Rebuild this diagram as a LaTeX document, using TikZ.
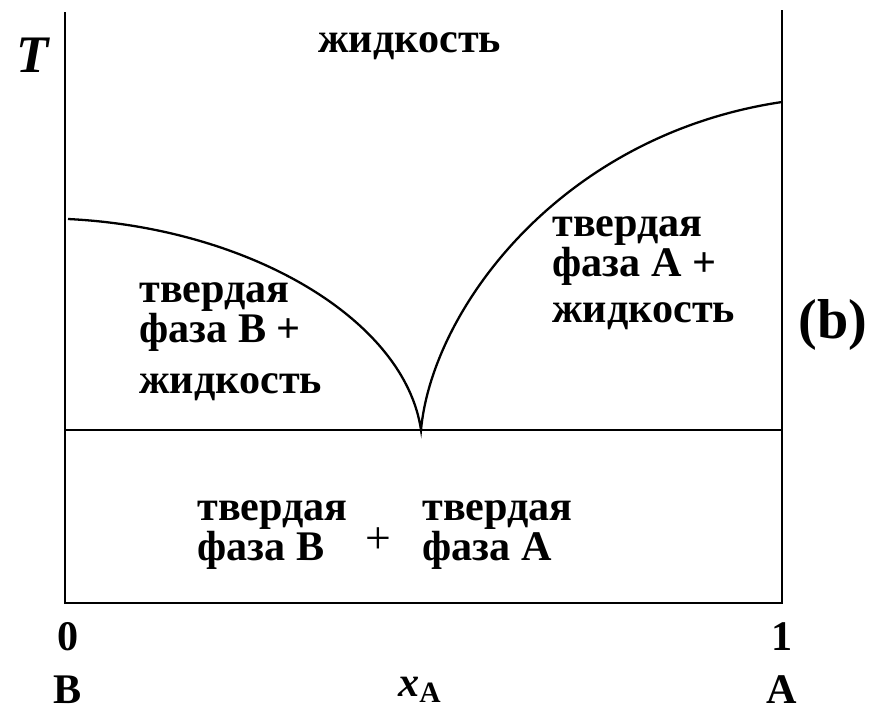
\documentclass[tikz,border=0pt]{standalone}
\usepackage{fontspec}
\setmainfont{Liberation Serif}
\begin{document}
\begin{tikzpicture}[x=0.02cm,y=-0.02cm,
  curve/.style={line width=1.3pt},
  lbl/.style={font=\fontsize{24}{21}\selectfont\bfseries,align=left,inner sep=0pt,anchor=base west},
  tick/.style={font=\fontsize{24}{24}\selectfont\bfseries,inner sep=0pt}]
\useasboundingbox (0,0) rectangle (877,721);
\coordinate (tl) at (65,12);
\coordinate (bl) at (65,603);
\coordinate (br) at (782,603);
\coordinate (tr) at (782,10);
\coordinate (el) at (65,430);
\coordinate (er) at (782,430);
\coordinate (e) at (421,430);
\coordinate (mB) at (68,219);
\coordinate (mA) at (782,102);
\draw[curve] (tl) -- (bl) -- (br) -- (tr);
\draw[curve] (el) -- (er);
\draw[curve] (mB) .. controls (250,228) and (405,320) .. (e)
  .. controls (432,310) and (560,135) .. (mA);
\node[font=\fontsize{30}{30}\selectfont\bfseries\itshape] (T) at (33,55) {T};
\node[lbl] (liq) at (318,52) {жидкость};
\node[lbl] (regB) at (139,393) {твердая\\фаза B +\\[8pt]жидкость};
\node[lbl] (regA) at (552,322) {твердая\\фаза A +\\[5pt]жидкость};
\node[lbl] (solB) at (197,560) {твердая\\фаза B};
\node[lbl,font=\fontsize{26}{26}\selectfont] (plus) at (365,553) {+};
\node[lbl] (solA) at (422,560) {твердая\\фаза A};
\node[font=\fontsize{32}{32}\selectfont\bfseries] (b) at (833,325) {(b)};
\node[tick] (zero) at (68,637) {0};
\node[tick] (B) at (68,690) {B};
\node[tick] (one) at (782,637) {1};
\node[tick] (A) at (782,690) {A};
\node[tick] (xA) at (420,690) {\textit{x}\textsubscript{A}};
\end{tikzpicture}
\end{document}
